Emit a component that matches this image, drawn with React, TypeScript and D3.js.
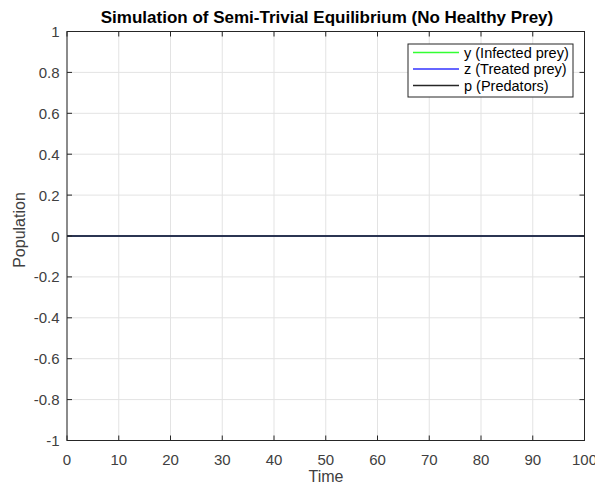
import React from "react";
import * as d3 from "d3";

const timeValues = [0, 25, 50, 75, 100];
const infectedPrey = [0, 0, 0, 0, 0];
const treatedPrey = [0, 0, 0, 0, 0];
const predators = [0, 0, 0, 0, 0];
const xTicks = [0, 10, 20, 30, 40, 50, 60, 70, 80, 90, 100];
const yTicks = [-1, -0.8, -0.6, -0.4, -0.2, 0, 0.2, 0.4, 0.6, 0.8, 1];
const seriesNames = ["y (Infected prey)", "z (Treated prey)", "p (Predators)"];
const seriesColors = ["#33ff33", "#3333ff", "#262626"];

export default function App() {
  const W = 595, H = 484;
  const L = 67, R = 584.5, T = 31.5, B = 440.5;
  const x = d3.scaleLinear().domain([0, 100]).range([L, R]);
  const y = d3.scaleLinear().domain([-1, 1]).range([B, T]);
  const series = [infectedPrey, treatedPrey, predators];
  const line = (vals: number[]) =>
    d3.line<number>().x((_, i) => x(timeValues[i])).y((v) => y(v))(vals) || "";
  const font = "Arial, 'Liberation Sans', sans-serif";
  const tickColor = "#262626";
  const textColor = "#404040";
  const tl = 5;
  return (
    <svg width={W} height={H} style={{ position: "absolute", left: 0, top: 0 }} fontFamily={font}>
      <rect x={0} y={0} width={W} height={H} fill="#fff" />
      {xTicks.map((t) => (
        <line key={"gx" + t} x1={x(t)} x2={x(t)} y1={T} y2={B} stroke="#e3e3e3" strokeWidth={1} />
      ))}
      {yTicks.map((t) => (
        <line key={"gy" + t} x1={L} x2={R} y1={y(t)} y2={y(t)} stroke="#e3e3e3" strokeWidth={1} />
      ))}
      {series.map((s, i) => (
        <path key={i} d={line(s)} fill="none" stroke={seriesColors[i]} strokeWidth={1.5} />
      ))}
      <rect x={L} y={T} width={R - L} height={B - T} fill="none" stroke={tickColor} strokeWidth={1} />
      {xTicks.map((t) => (
        <g key={"tx" + t}>
          <line x1={x(t)} x2={x(t)} y1={B} y2={B - tl} stroke={tickColor} />
          <line x1={x(t)} x2={x(t)} y1={T} y2={T + tl} stroke={tickColor} />
          <text x={x(t)} y={465} textAnchor="middle" fontSize={15} fill={textColor}>{t}</text>
        </g>
      ))}
      {yTicks.map((t) => (
        <g key={"ty" + t}>
          <line x1={L} x2={L + tl} y1={y(t)} y2={y(t)} stroke={tickColor} />
          <line x1={R} x2={R - tl} y1={y(t)} y2={y(t)} stroke={tickColor} />
          <text x={59.5} y={y(t) + 5.5} textAnchor="end" fontSize={15} fill={textColor}>{String(t)}</text>
        </g>
      ))}
      <text x={327} y={23} textAnchor="middle" fontSize={17} fontWeight="bold" fill="#000">
        Simulation of Semi-Trivial Equilibrium (No Healthy Prey)
      </text>
      <text x={326} y={481.5} textAnchor="middle" fontSize={16} fill={textColor}>Time</text>
      <text transform={`translate(25,230) rotate(-90)`} textAnchor="middle" fontSize={16} fill={textColor}>Population</text>
      <g>
        <rect x={408} y={44} width={165} height={53} fill="#fff" stroke={tickColor} strokeWidth={1} />
        {seriesNames.map((n, i) => (
          <g key={n}>
            <line x1={413} x2={459} y1={52.5 + i * 16.5} y2={52.5 + i * 16.5} stroke={seriesColors[i]} strokeWidth={1.5} />
            <text x={464} y={57.5 + i * 16.5} fontSize={14.5} fill="#000">{n}</text>
          </g>
        ))}
      </g>
    </svg>
  );
}
